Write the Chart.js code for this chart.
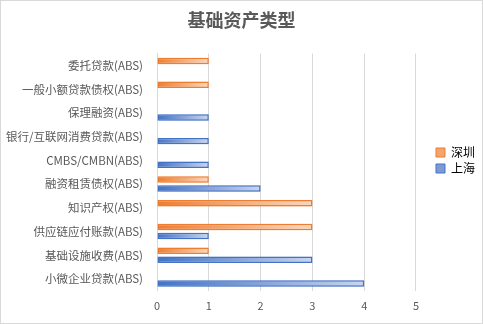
<!DOCTYPE html>
<html>
<head>
<meta charset="utf-8">
<script src="https://cdn.jsdelivr.net/npm/chart.js@4/dist/chart.umd.min.js"></script>
<style>
  html, body { margin: 0; padding: 0; background: #fff; }
  #box { width: 481px; height: 322px; border: 1px solid #D9D9D9; }
</style>
</head>
<body>
<div id="box"><canvas id="chart" width="481" height="322"></canvas></div>
<script>
var categories = [
  '委托贷款(ABS)', '一般小额贷款债权(ABS)', '保理融资(ABS)', '银行/互联网消费贷款(ABS)',
  'CMBS/CMBN(ABS)', '融资租赁债权(ABS)', '知识产权(ABS)', '供应链应付账款(ABS)',
  '基础设施收费(ABS)', '小微企业贷款(ABS)'
];
var shenzhen = [1, 1, 0, 0, 0, 1, 3, 3, 1, 0];
var shanghai = [0, 0, 1, 1, 1, 2, 0, 1, 3, 4];
var seriesNames = ['深圳', '上海'];

var cjk = '"Noto Sans CJK SC", "Noto Sans", sans-serif';

// gradient per bar, from 0 to the bar end
function grad(c0, c1) {
  return function (ctx) {
    var chart = ctx.chart;
    if (!chart.chartArea || ctx.type !== 'data') return c0;
    var xs = chart.scales.x;
    var x0 = xs.getPixelForValue(0);
    var x1 = xs.getPixelForValue(ctx.raw || 0);
    if (x1 - x0 < 1) return c0;
    var g = chart.ctx.createLinearGradient(x0, 0, x1, 0);
    g.addColorStop(0, c0);
    g.addColorStop(1, c1);
    return g;
  };
}

var shadowColors = ['rgba(237,125,49,0.35)', 'rgba(68,114,196,0.35)'];
var shadowPlugin = {
  id: 'barShadow',
  beforeDatasetDraw: function (chart, args) {
    var c = chart.ctx;
    c.save();
    c.shadowColor = shadowColors[args.index];
    c.shadowBlur = 5;
    c.shadowOffsetX = 1;
    c.shadowOffsetY = 1;
  },
  afterDatasetDraw: function (chart) {
    chart.ctx.restore();
  }
};

// leave a gap between plot and legend
var legendExtra = 13, legendShiftX = 16;
var legendShift = {
  id: 'legendShift',
  afterInit: function (chart) {
    var lg = chart.legend;
    var fit = lg.fit, draw = lg.draw;
    lg.fit = function () { fit.call(this); this.width += legendExtra; };
    lg.draw = function () { this.left += legendShiftX; draw.call(this); this.left -= legendShiftX; };
  }
};

new Chart(document.getElementById('chart'), {
  type: 'bar',
  data: {
    labels: categories,
    datasets: [
      {
        label: seriesNames[0],
        data: shenzhen,
        backgroundColor: grad('#ED7D31', '#FAD7BE'),
        borderColor: '#ED7D31',
        borderWidth: function (c) { return c.raw ? 1.5 : 0; },
        borderSkipped: false
      },
      {
        label: seriesNames[1],
        data: shanghai,
        backgroundColor: grad('#4472C4', '#C8D5EE'),
        borderColor: '#4472C4',
        borderWidth: function (c) { return c.raw ? 1.5 : 0; },
        borderSkipped: false
      }
    ]
  },
  options: {
    indexAxis: 'y',
    responsive: false,
    animation: false,
    categoryPercentage: 0.76,
    barPercentage: 0.72,
    layout: { padding: { left: 0, right: 0, top: 0, bottom: 3 } },
    plugins: {
      title: {
        display: true,
        text: '基础资产类型',
        color: '#595959',
        font: { family: cjk, size: 18, weight: 'bold' },
        padding: { top: 8, bottom: 23 }
      },
      legend: {
        position: 'right',
        labels: {
          color: '#595959',
          font: { family: cjk, size: 12 },
          boxWidth: 9,
          boxHeight: 9,
          padding: 4,
          generateLabels: function () {
            return [
              { text: seriesNames[0], fillStyle: '#F4A46E', strokeStyle: '#ED7D31', lineWidth: 1, datasetIndex: 0 },
              { text: seriesNames[1], fillStyle: '#7C9AD6', strokeStyle: '#4472C4', lineWidth: 1, datasetIndex: 1 }
            ];
          }
        }
      },
      tooltip: { enabled: false }
    },
    scales: {
      x: {
        min: 0,
        max: 5,
        ticks: { stepSize: 1, color: '#595959', font: { family: cjk, size: 11 }, padding: 8 },
        grid: { color: '#D9D9D9', drawTicks: false },
        border: { display: false }
      },
      y: {
        ticks: { color: '#595959', font: { family: cjk, size: 11.5 }, padding: 6 },
        grid: { display: false },
        border: { color: '#D9D9D9' },
        afterFit: function (s) { s.width = 156; }
      }
    }
  },
  plugins: [shadowPlugin, legendShift]
});
</script>
</body>
</html>
